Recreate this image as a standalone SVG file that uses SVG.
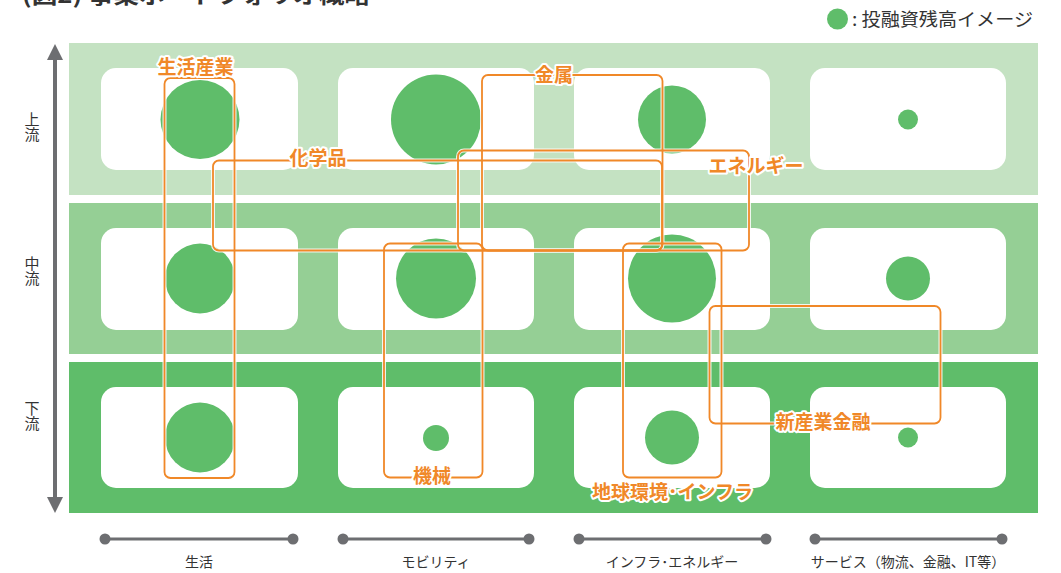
<svg xmlns="http://www.w3.org/2000/svg" width="1061" height="573" viewBox="0 0 1061 573">
<defs>
<style>
.box{fill:#fff}
.dot{fill:#5fbd6a}
.halo{fill:none;stroke:#fff;stroke-width:4;opacity:0.85}
.ln{fill:none;stroke:#f08828;stroke-width:1.8}
.lbl{font-family:"Noto Sans CJK JP","Noto Sans",sans-serif;font-weight:bold;font-size:19px;fill:#f08828;stroke:#fff;stroke-width:4;stroke-linejoin:round;paint-order:stroke;text-anchor:middle}
.ax{font-family:"Noto Sans CJK JP","Noto Sans",sans-serif;font-size:14px;fill:#333;text-anchor:middle}
.vt{font-family:"Noto Sans CJK JP","Noto Sans",sans-serif;font-size:15px;fill:#333;writing-mode:vertical-rl;text-anchor:start}
.axl{stroke:#6d6e71;stroke-width:3}
.axd{fill:#6d6e71}
</style>
<marker id="ah" viewBox="0 0 10 10" refX="5" refY="5" markerWidth="5" markerHeight="4" orient="auto-start-reverse" markerUnits="strokeWidth">
<path d="M0,0 L10,5 L0,10 z" fill="#6d6e71"/>
</marker>
</defs>
<rect width="1061" height="573" fill="#fff"/>
<text x="22" y="3" font-family="'Noto Sans CJK JP',sans-serif" font-weight="bold" font-size="22" fill="#333" textLength="348" lengthAdjust="spacingAndGlyphs">(図2) 事業ポートフォリオ概略</text>
<g id="legend">
<circle cx="837.5" cy="19" r="10.5" class="dot"/>
<text x="852" y="26" font-family="'Noto Sans CJK JP',sans-serif" font-size="18" fill="#333" textLength="181" lengthAdjust="spacingAndGlyphs">: 投融資残高イメージ</text>
</g>
<g id="bands">
<rect x="69" y="43" width="969" height="152" fill="#c4e2c2"/>
<rect x="69" y="203" width="969" height="151" fill="#95cf95"/>
<rect x="69" y="362" width="969" height="151" fill="#5fbd6a"/>
</g>
<g id="boxes">
<rect x="101" y="68" width="197" height="102" rx="15" class="box"/>
<rect x="338" y="68" width="196" height="102" rx="15" class="box"/>
<rect x="574" y="68" width="196" height="102" rx="15" class="box"/>
<rect x="810" y="68" width="196" height="102" rx="15" class="box"/>
<rect x="101" y="228" width="197" height="102" rx="15" class="box"/>
<rect x="338" y="228" width="196" height="102" rx="15" class="box"/>
<rect x="574" y="228" width="196" height="102" rx="15" class="box"/>
<rect x="810" y="228" width="196" height="102" rx="15" class="box"/>
<rect x="101" y="387" width="197" height="101" rx="15" class="box"/>
<rect x="338" y="387" width="196" height="101" rx="15" class="box"/>
<rect x="574" y="387" width="196" height="101" rx="15" class="box"/>
<rect x="810" y="387" width="196" height="101" rx="15" class="box"/>
</g>
<g id="bubbles">
<circle cx="200" cy="119.5" r="39.5" class="dot"/>
<circle cx="436" cy="119.5" r="45" class="dot"/>
<circle cx="672" cy="119.5" r="34" class="dot"/>
<circle cx="908" cy="119.5" r="10" class="dot"/>
<circle cx="200" cy="278.5" r="35" class="dot"/>
<circle cx="436" cy="278.5" r="40" class="dot"/>
<circle cx="672" cy="278.5" r="44" class="dot"/>
<circle cx="908" cy="278.5" r="22" class="dot"/>
<circle cx="200" cy="437.5" r="35" class="dot"/>
<circle cx="436" cy="438" r="13" class="dot"/>
<circle cx="672" cy="437.5" r="27" class="dot"/>
<circle cx="908" cy="437.5" r="10" class="dot"/>
</g>
<g id="connectors">
<g class="halo">
<rect x="164.5" y="78" width="70" height="400" rx="6"/>
<rect x="213" y="160.5" width="449" height="90" rx="6"/>
<rect x="482" y="75" width="180.5" height="175.5" rx="6"/>
<rect x="458" y="150.5" width="291" height="100" rx="6"/>
<rect x="384" y="243.5" width="98.5" height="234" rx="6"/>
<rect x="623" y="243.5" width="98.5" height="234" rx="6"/>
<rect x="709.5" y="306" width="231" height="117.5" rx="6"/>
</g>
<g class="ln">
<rect x="164.5" y="78" width="70" height="400" rx="6"/>
<rect x="213" y="160.5" width="449" height="90" rx="6"/>
<rect x="482" y="75" width="180.5" height="175.5" rx="6"/>
<rect x="458" y="150.5" width="291" height="100" rx="6"/>
<rect x="384" y="243.5" width="98.5" height="234" rx="6"/>
<rect x="623" y="243.5" width="98.5" height="234" rx="6"/>
<rect x="709.5" y="306" width="231" height="117.5" rx="6"/>
</g>
</g>
<g id="labels">
<g id="n-seikatsu"><text x="195.5" y="74" class="lbl">生活産業</text></g>
<g id="n-kagaku"><text x="318" y="165" class="lbl">化学品</text></g>
<g id="n-kinzoku"><text x="554" y="82" class="lbl">金属</text></g>
<g id="n-energy"><text x="756" y="173" class="lbl">エネルギー</text></g>
<g id="n-kikai"><text x="432" y="483" class="lbl">機械</text></g>
<g id="n-infra"><text x="672.5" y="499" class="lbl">地球環境･インフラ</text></g>
<g id="n-finance"><text x="823" y="428.5" class="lbl">新産業金融</text></g>
</g>
<g id="axis-v">
<line x1="55" y1="52" x2="55" y2="505" stroke="#6d6e71" stroke-width="4" marker-start="url(#ah)" marker-end="url(#ah)"/>
<text x="32" y="112" class="vt">上流</text>
<text x="32" y="256" class="vt">中流</text>
<text x="32" y="401" class="vt">下流</text>
</g>
<g id="axis-h">
<line x1="105" y1="539" x2="293" y2="539" class="axl"/><circle cx="105" cy="539" r="5.5" class="axd"/><circle cx="293" cy="539" r="5.5" class="axd"/>
<line x1="343" y1="539" x2="529" y2="539" class="axl"/><circle cx="343" cy="539" r="5.5" class="axd"/><circle cx="529" cy="539" r="5.5" class="axd"/>
<line x1="579" y1="539" x2="766" y2="539" class="axl"/><circle cx="579" cy="539" r="5.5" class="axd"/><circle cx="766" cy="539" r="5.5" class="axd"/>
<line x1="815" y1="539" x2="1002" y2="539" class="axl"/><circle cx="815" cy="539" r="5.5" class="axd"/><circle cx="1002" cy="539" r="5.5" class="axd"/>
<text x="199" y="567" class="ax">生活</text>
<text x="436" y="567" class="ax">モビリティ</text>
<text x="672" y="567" class="ax">インフラ･エネルギー</text>
<text x="908" y="567" class="ax">サービス（物流、金融、IT等）</text>
</g>
</svg>
